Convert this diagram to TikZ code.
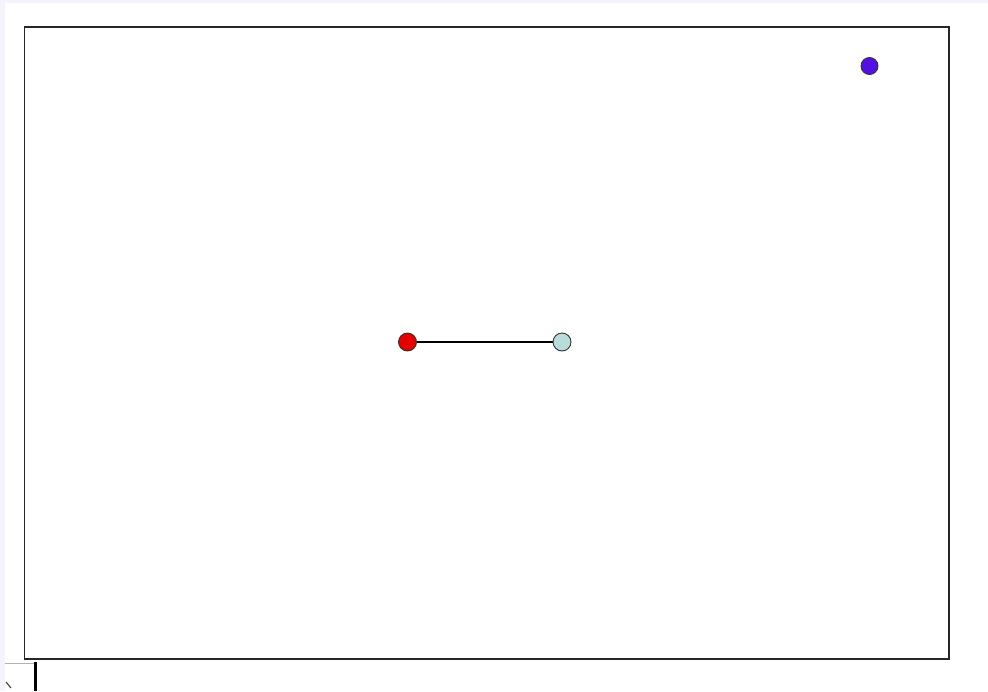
\documentclass[tikz,border=0pt]{standalone}
\begin{document}
\begin{tikzpicture}[x=1pt,y=-1pt,
  dotnode/.style={circle,draw=black!80,line width=0.9pt,inner sep=0pt,minimum size=18pt},
  frame/.style={draw=black!85,line width=1.6pt}]
\definecolor{dotred}{RGB}{228,0,0}
\definecolor{dotblue}{RGB}{184,220,220}
\definecolor{dotpurple}{RGB}{84,16,224}
\definecolor{edgetint}{RGB}{244,245,252}
\useasboundingbox (0,0) rectangle (988,691);
\fill[white] (0,0) rectangle (988,691);
\fill[edgetint] (0,0) rectangle (988,3);
\fill[edgetint] (0,0) rectangle (5,691);
\draw[frame] (24.5,27) rectangle (949,659);
% stray window fragments at bottom left
\draw[black!30,line width=1pt] (5,663.5) -- (35,663.5);
\draw[black,line width=2.5pt] (35.5,662) -- (35.5,691);
\draw[black!80,line width=1pt] (6,682) -- (11,688);
% nodes
\node[dotnode,fill=dotred] (r) at (407.5,342) {};
\node[dotnode,fill=dotblue] (b) at (562,342) {};
\node[dotnode,fill=dotpurple,minimum size=17pt] (p) at (869.5,66) {};
\draw[black,line width=1.4pt] (r) -- (b);
\end{tikzpicture}
\end{document}
